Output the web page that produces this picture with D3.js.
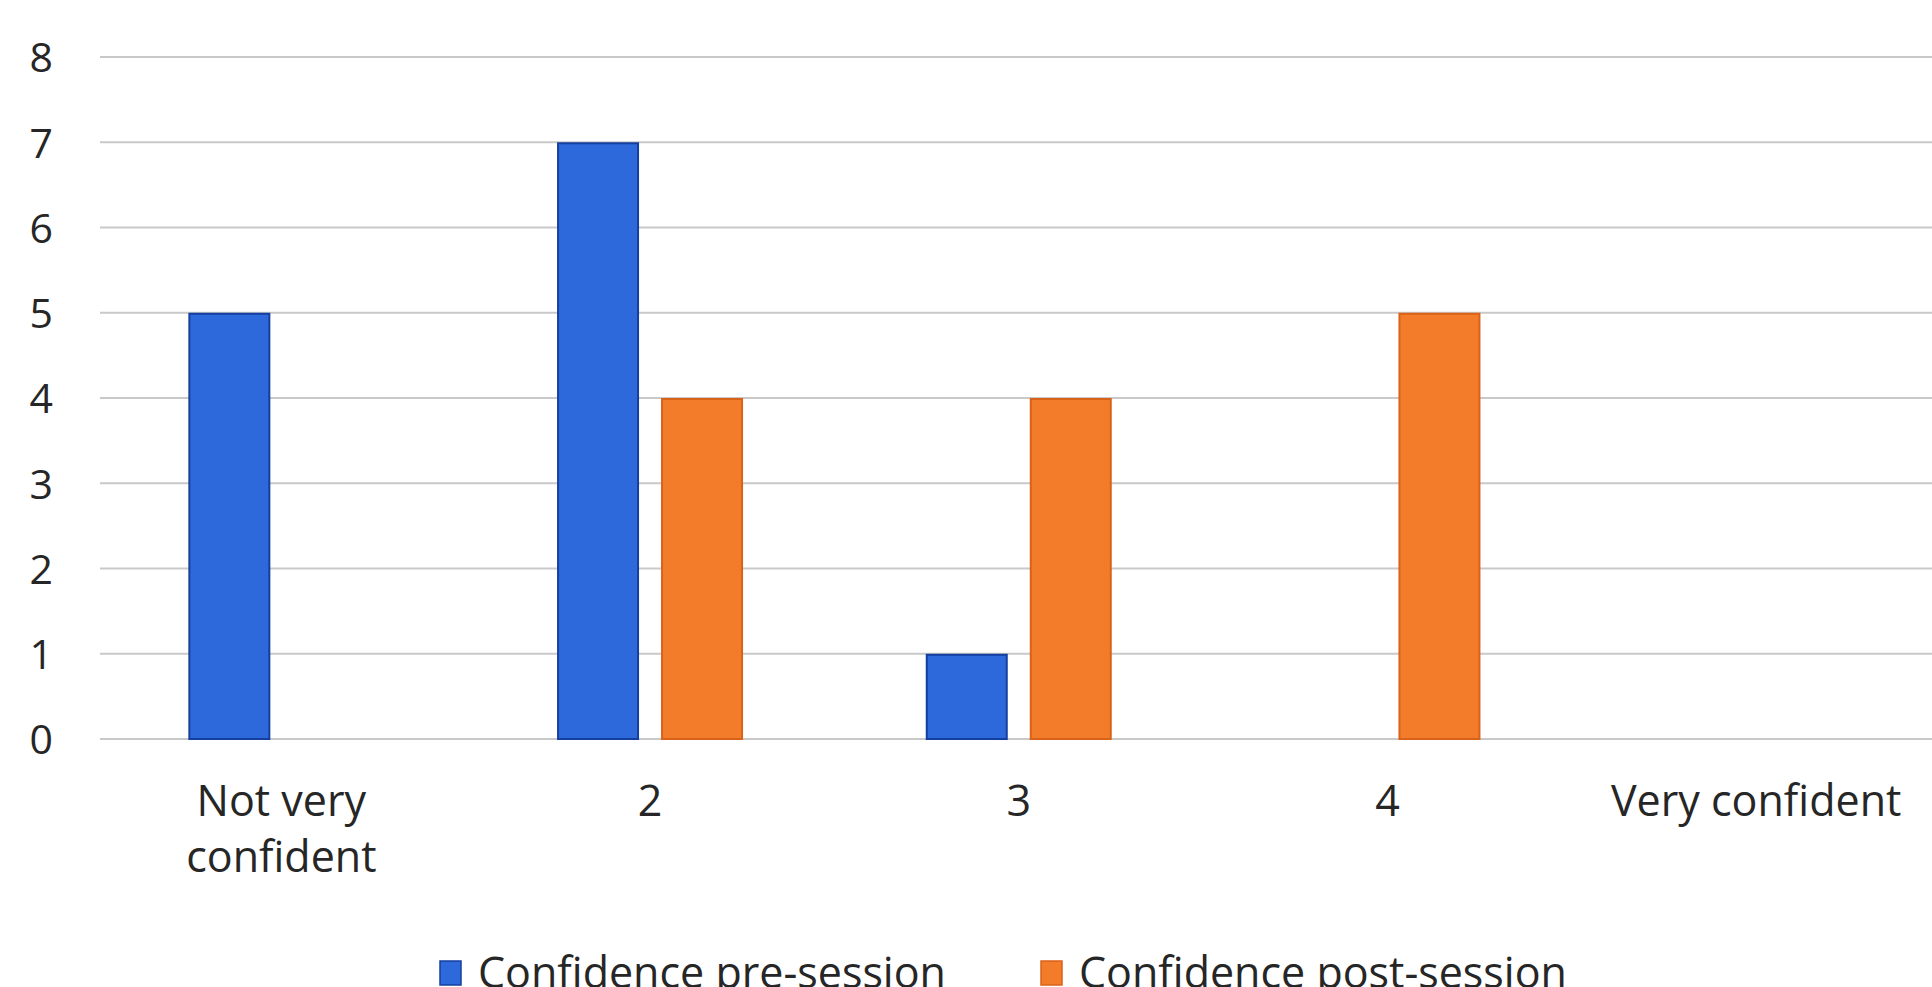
<!DOCTYPE html>
<html>
<head>
<meta charset="utf-8">
<script src="https://cdn.jsdelivr.net/npm/d3@7"></script>
<style>
html,body{margin:0;padding:0;background:#fff;overflow:hidden;}
svg{display:block;}
text{font-family:"Open Sans",sans-serif;fill:#262626;}
</style>
</head>
<body>
<svg id="chart" width="1932" height="987"></svg>
<script>
const categories = ["Not very\nconfident", "2", "3", "4", "Very confident"];
const seriesNames = ["Confidence pre-session", "Confidence post-session"];
const preSession = [5, 7, 1, 0, 0];
const postSession = [0, 4, 4, 5, 0];
const yTicks = [0, 1, 2, 3, 4, 5, 6, 7, 8];
const colors = ["#2D69DA", "#F37C2A"];
const borders = ["#153F9E", "#D9621A"];

const svg = d3.select("#chart");
const x0 = d3.scaleBand().domain(d3.range(categories.length)).range([97, 97 + 5 * 368.7]).paddingInner(0).paddingOuter(0);
const groupW = 186;
const x1 = d3.scaleBand().domain([0, 1]).range([0, groupW]).paddingInner(22 / 104).paddingOuter(0);
const y = d3.scaleLinear().domain([0, 8]).range([739, 57]);

// gridlines
svg.append("g").selectAll("line").data(yTicks).join("line")
  .attr("x1", 100).attr("x2", 1932)
  .attr("y1", d => y(d)).attr("y2", d => y(d))
  .attr("stroke", "#C9C9C9").attr("stroke-width", 2.2);

// y labels
const yAxis = d3.axisLeft(y).tickValues(yTicks).tickSize(0).tickPadding(0);
const ya = svg.append("g").attr("transform", "translate(53,0)").call(yAxis);
ya.select(".domain").remove();
ya.selectAll("text").attr("font-size", 41).attr("font-family", "Open Sans").attr("fill", "#262626").attr("dy", "0.36em");

// bars
const data = [preSession, postSession];
const groups = svg.append("g").selectAll("g").data(categories.map((c, i) => i)).join("g")
  .attr("transform", i => `translate(${x0(i) + (x0.bandwidth() - groupW) / 2},0)`);
groups.selectAll("rect").data(i => [0, 1].map(s => ({s, v: data[s][i]})).filter(d => d.v > 0)).join("rect")
  .attr("x", d => x1(d.s) + 1)
  .attr("width", x1.bandwidth() - 2)
  .attr("y", d => y(d.v) + 1)
  .attr("height", d => y(0) - y(d.v) - 1)
  .attr("fill", d => colors[d.s])
  .attr("stroke", d => borders[d.s]).attr("stroke-width", 2);

// x labels
const xl = svg.append("g").selectAll("text").data(categories).join("text")
  .attr("x", (d, i) => x0(i) + x0.bandwidth() / 2)
  .attr("y", 816)
  .attr("text-anchor", "middle").attr("font-size", 43);
xl.each(function(d) {
  const lines = d.split("\n");
  d3.select(this).selectAll("tspan").data(lines).join("tspan")
    .attr("x", d3.select(this).attr("x"))
    .attr("dy", (l, k) => k === 0 ? 0 : 56)
    .text(l => l);
});

// legend
const legX = [440, 1041];
const leg = svg.append("g").selectAll("g").data(seriesNames).join("g");
leg.append("rect").attr("x", (d, i) => legX[i]).attr("y", 961).attr("width", 21).attr("height", 24)
  .attr("fill", (d, i) => colors[i]).attr("stroke", (d, i) => borders[i]).attr("stroke-width", 1.5);
leg.append("text").attr("x", (d, i) => legX[i] + 38).attr("y", 988).attr("font-size", 43).text(d => d);
</script>
</body>
</html>
